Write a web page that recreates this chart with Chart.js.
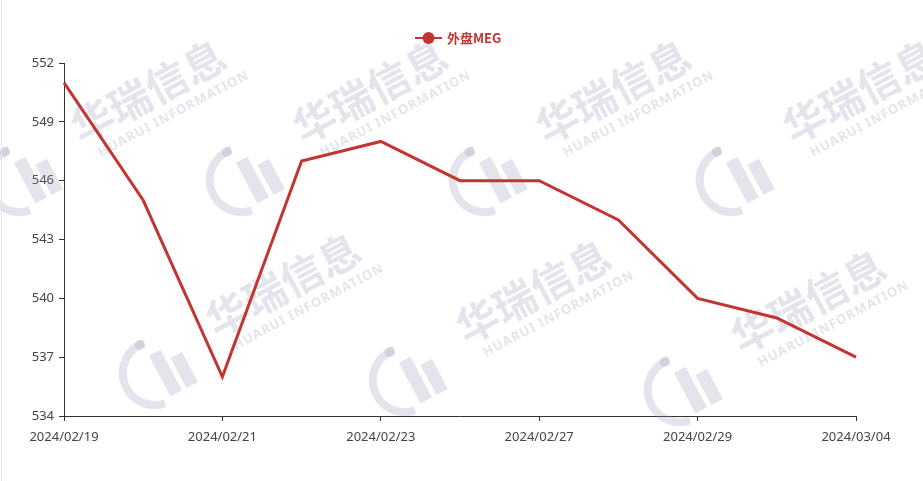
<!DOCTYPE html>
<html>
<head>
<meta charset="utf-8">
<script src="https://cdn.jsdelivr.net/npm/chart.js@4/dist/chart.umd.min.js"></script>
<style>
html,body{margin:0;padding:0;background:#fff;}
#wrap{width:923px;height:481px;position:relative;}
</style>
</head>
<body>
<div id="wrap"><canvas id="c" width="923" height="481"></canvas></div>
<script>
const categories = ["2024/02/19","2024/02/20","2024/02/21","2024/02/22","2024/02/23","2024/02/26","2024/02/27","2024/02/28","2024/02/29","2024/03/01","2024/03/04"];
const seriesName = "外盘MEG";
const values = [551, 545, 536, 547, 548, 546, 546, 544, 540, 539, 537];
const yTicks = [534, 537, 540, 543, 546, 549, 552];

const RED = "#c23531";
const FONT = "'Noto Sans CJK SC', sans-serif";
const TICKFONT = "'Noto Sans', 'Noto Sans CJK SC', sans-serif";

const watermarkPlugin = {
  id: 'wm',
  beforeDatasetsDraw(chart) {
    const ctx = chart.ctx;
    const spots = [[150,95],[372,95],[615,95],[862,95],[285,288],[535,295],[810,305]];
    const col = 'rgba(150,155,180,0.26)';
    ctx.save();
    spots.forEach(([x,y]) => {
      ctx.save();
      ctx.translate(x, y);
      ctx.rotate(-28 * Math.PI / 180);
      ctx.fillStyle = col;
      ctx.font = "bold 42px " + FONT;
      ctx.textAlign = 'center';
      ctx.textBaseline = 'middle';
      ctx.fillText("华瑞信息", 0, -4);
      ctx.font = "bold 13px " + TICKFONT;
      if (ctx.letterSpacing !== undefined) ctx.letterSpacing = '1px';
      ctx.fillText("HUARUI INFORMATION", 12, 28);
      // logo
      ctx.lineWidth = 8;
      ctx.strokeStyle = col;
      ctx.beginPath();
      ctx.arc(-155, 14, 32, Math.PI*0.55, Math.PI*1.55);
      ctx.stroke();
      ctx.beginPath();
      ctx.arc(-155, -18, 5, 0, Math.PI*2);
      ctx.fill();
      ctx.fillRect(-152, -4, 13, 46);
      ctx.fillRect(-134, 8, 13, 34);
      ctx.restore();
    });
    ctx.restore();
  },
  afterDraw(chart) {
    const ctx = chart.ctx;
    ctx.save();
    const cy = 38;
    ctx.strokeStyle = RED; ctx.lineWidth = 2;
    ctx.beginPath(); ctx.moveTo(415, cy); ctx.lineTo(442, cy); ctx.stroke();
    ctx.fillStyle = RED;
    ctx.beginPath(); ctx.arc(428.5, cy, 6, 0, Math.PI*2); ctx.fill();
    ctx.font = "bold 13px " + FONT;
    ctx.textAlign = 'left'; ctx.textBaseline = 'middle';
    ctx.fillText(seriesName, 447, cy);
    ctx.strokeStyle = '#e6e6e6'; ctx.lineWidth = 1;
    ctx.beginPath(); ctx.moveTo(1.5, 0); ctx.lineTo(1.5, 481); ctx.stroke();
    ctx.restore();
  }
};

new Chart(document.getElementById('c'), {
  type: 'line',
  data: {
    labels: categories,
    datasets: [{
      label: seriesName,
      data: values,
      borderColor: RED,
      backgroundColor: RED,
      borderWidth: 3,
      pointRadius: 0,
      pointHoverRadius: 0,
      tension: 0,
      fill: false
    }]
  },
  options: {
    responsive: false,
    animation: false,
    events: [],
    layout: { padding: { top: 63, right: 67, left: 0, bottom: 0 } },
    plugins: { legend: { display: false }, tooltip: { enabled: false } },
    scales: {
      x: {
        type: 'category',
        offset: false,
        afterFit(s) { s.height = 65; },
        border: { display: true, color: '#333', width: 1 },
        grid: {
          drawOnChartArea: false,
          tickLength: 5,
          color: (c) => (c.index % 2 === 0 ? '#333' : 'rgba(0,0,0,0)'),
          tickColor: (c) => (c.index % 2 === 0 ? '#333' : 'rgba(0,0,0,0)')
        },
        ticks: {
          autoSkip: false,
          maxRotation: 0,
          padding: 8,
          color: '#444',
          font: { family: TICKFONT, size: 13 },
          callback(v, i) { return i % 2 === 0 ? categories[i] : ''; }
        }
      },
      y: {
        min: 534,
        max: 552,
        afterFit(s) { s.width = 64; },
        afterBuildTicks(s) { s.ticks = yTicks.map(v => ({ value: v })); },
        border: { display: true, color: '#333', width: 1 },
        grid: { drawOnChartArea: false, tickLength: 5, color: '#333', tickColor: '#333' },
        ticks: {
          padding: 5,
          color: '#444',
          font: { family: TICKFONT, size: 13 }
        }
      }
    }
  },
  plugins: [watermarkPlugin]
});
</script>
</body>
</html>
